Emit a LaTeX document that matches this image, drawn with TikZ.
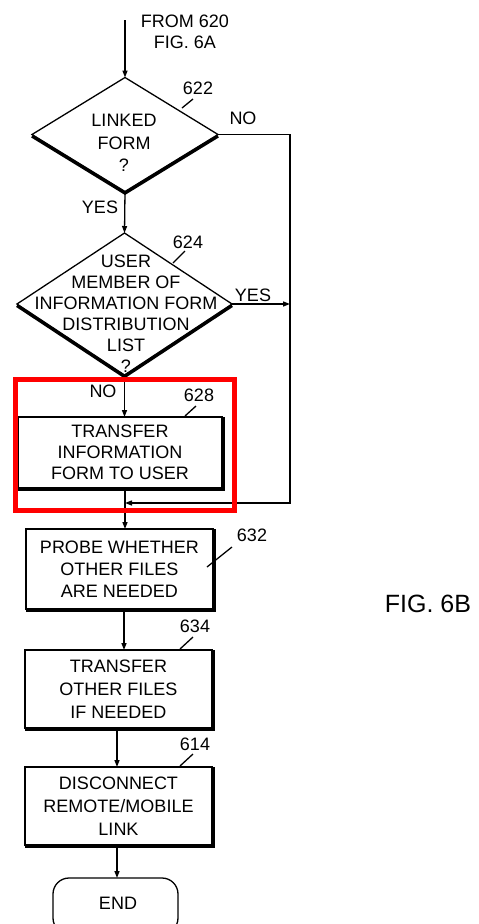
\documentclass[tikz,border=0pt]{standalone}
\usepackage{fontspec}
\setmainfont{Liberation Sans}
\usetikzlibrary{shapes.geometric,arrows.meta}
\begin{document}
\begin{tikzpicture}[x=1pt,y=-1pt,
  every node/.style={font=\fontsize{18}{21}\selectfont, inner sep=0pt, outer sep=0pt},
  ln/.style={line width=1.3pt},
  arr/.style={line width=1.3pt,-{Triangle[length=7pt,width=5pt]}},
  shade/.style={line width=3.2pt, line cap=butt},
  box/.style={draw, line width=1.3pt, rectangle, align=center},
  dia/.style={draw, line width=1.3pt, diamond},
  lbl/.style={align=center}
]
\useasboundingbox (0,0) rectangle (479,924);
\clip (0,0) rectangle (479,924);

% incoming
\coordinate (start) at (125,20);
\node[lbl] (from) at (185,32) {FROM 620\\FIG. 6A};

% decision 622
\node[dia, minimum width=186pt, minimum height=114pt] (d1) at (125,134.5) {};
\node[lbl, font=\fontsize{18}{22.5}\selectfont] (t1) at (124,143) {LINKED\\FORM\\?};
\draw[shade] ([yshift=-1.6pt]d1.west) -- ([yshift=-1.6pt]d1.south) -- ([yshift=-1.6pt]d1.east);
\node (n622) at (198,88) {622};
\coordinate (a622) at (182,108);
\coordinate (b622) at (193,99);
\draw[ln] (a622) -- (b622);
\node (no1) at (243,118) {NO};
\node (yes1) at (100,207) {YES};

% decision 624
\node[dia, minimum width=215pt, minimum height=142pt] (d2) at (124.5,304) {};
\node[lbl] (t2) at (126,313.5) {USER\\MEMBER OF\\INFORMATION FORM\\DISTRIBUTION\\LIST\\?};
\draw[shade] ([yshift=-1.6pt]d2.west) -- ([yshift=-1.6pt]d2.south) -- ([yshift=-1.6pt]d2.east);
\node (n624) at (188,242) {624};
\coordinate (a624) at (173,263);
\coordinate (b624) at (185,251);
\draw[ln] (a624) -- (b624);
\node (yes2) at (253,295) {YES};
\node (no2) at (103,391) {NO};

% box 628
\node[box, minimum width=204pt, minimum height=71pt] (b628) at (120,452.5) {TRANSFER\\INFORMATION\\FORM TO USER};
\draw[shade] ([xshift=1.6pt]b628.north east) -- ([xshift=1.6pt,yshift=-1.6pt]b628.south east) -- ([yshift=-1.6pt]b628.south west);
\node (n628) at (199,395) {628};
\coordinate (a628) at (185,416);
\coordinate (b628l) at (196,406);
\draw[ln] (a628) -- (b628l);

% box 632
\node[box, minimum width=187pt, minimum height=80pt, font=\fontsize{18}{22}\selectfont] (b632) at (119.5,569) {PROBE WHETHER\\OTHER FILES\\ARE NEEDED};
\draw[shade] ([xshift=1.6pt]b632.north east) -- ([xshift=1.6pt,yshift=-1.6pt]b632.south east) -- ([yshift=-1.6pt]b632.south west);
\node (n632) at (252,535) {632};
\coordinate (a632) at (207,567);
\coordinate (b632l) at (232,547);
\draw[ln] (a632) -- (b632l);

% box 634
\node[box, minimum width=187pt, minimum height=78pt, font=\fontsize{18}{23}\selectfont] (b634) at (118.5,689) {TRANSFER\\OTHER FILES\\IF NEEDED};
\draw[shade] ([xshift=1.6pt]b634.north east) -- ([xshift=1.6pt,yshift=-1.6pt]b634.south east) -- ([yshift=-1.6pt]b634.south west);
\node (n634) at (195,626) {634};
\coordinate (a634) at (180,649);
\coordinate (b634l) at (193,637);
\draw[ln] (a634) -- (b634l);

% box 614
\node[box, minimum width=187pt, minimum height=78pt, font=\fontsize{18}{23}\selectfont] (b614) at (118.5,806) {DISCONNECT\\REMOTE/MOBILE\\LINK};
\draw[shade] ([xshift=1.6pt]b614.north east) -- ([xshift=1.6pt,yshift=-1.6pt]b614.south east) -- ([yshift=-1.6pt]b614.south west);
\node (n614) at (195,744) {614};
\coordinate (a614) at (180,766);
\coordinate (b614l) at (193,754);
\draw[ln] (a614) -- (b614l);

% end
\node[draw, line width=1.3pt, rounded corners=16pt, minimum width=125pt, minimum height=56pt] (endn) at (115.5,906) {};
\node (endt) at (118,903) {END};

\node[font=\fontsize{25}{28}\selectfont] (fig) at (428,604) {FIG. 6B};

% connectors
\coordinate (rt) at (290,0);
\coordinate (m) at (125,503);
\coordinate (c1) at (124,0);
\coordinate (c2) at (117,0);
\draw[arr] (start) -- (d1.north);
\draw[arr] (d1.south) -- (d2.north);
\draw[arr] (d1.east) -- (d1.east -| rt) -- (rt |- m) -- (m);
\draw[arr] (d2.east) -- (d2.east -| rt);
\draw[arr] (d2.south) -- (d2.south |- b628.north);
\draw[ln] (m |- b628.south) -- (m);
\draw[arr] (m) -- (m |- b632.north);
\draw[arr] (b632.south -| c1) -- (b634.north -| c1);
\draw[arr] (b634.south -| c2) -- (b614.north -| c2);
\draw[arr] (b614.south -| c2) -- (endn.north -| c2);

% highlight
\node[draw=red, line width=5pt, minimum width=219pt, minimum height=131pt] (hl) at (125,445) {};
\end{tikzpicture}
\end{document}
